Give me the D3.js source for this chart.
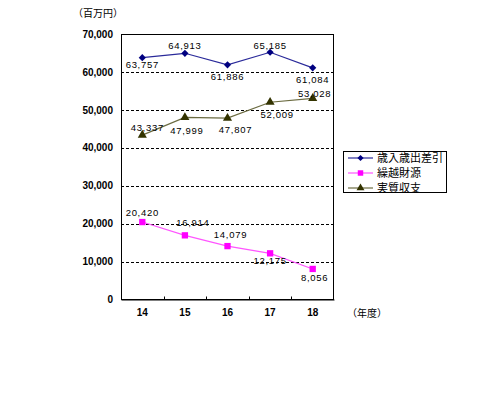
<!DOCTYPE html>
<html><head><meta charset="utf-8">
<script src="https://cdn.jsdelivr.net/npm/d3@7"></script>
<style>body{margin:0;background:#fff}</style>
</head><body>
<svg id="c" width="480" height="397"></svg>
<script>
const years = ["14","15","16","17","18"];
const seriesNames = ["歳入歳出差引","繰越財源","実質収支"];
const balance = [63757,64913,61886,65185,61084];
const carryover = [20420,16914,14079,12175,8056];
const realBalance = [43337,47999,47807,52009,53028];
const yTicks = [0,10000,20000,30000,40000,50000,60000,70000];
const unitLabel = "（百万円）";
const xUnitLabel = "（年度）";
// value-label layout (pixel offsets of text baseline from point), kept separate from data
const balanceLabelDx = [0,0,0,0,0];
const balanceLabelDy = [10.5,-4,15,-3,15.5];
const carryLabelDx = [0,8,3,0,2];
const carryLabelDy = [-6,-9,-8,11,12.5];
const realLabelDx = [5,2,8,7,2];
const realLabelDy = [-4.5,17,15,16,-1.5];

const svg = d3.select("#c");
const L=121,R=334,T=34,B=299.5;
const x = d3.scaleBand().domain(years).range([L,R]);
const y = d3.scaleLinear().domain([0,70000]).range([B,T]);
const num = d3.format(",");
const fNum = "'Liberation Sans', Arial, sans-serif";
const fJp = "'Noto Sans CJK JP', sans-serif";

// gridlines
svg.append("g").selectAll("line").data(yTicks.filter(v=>v>0&&v<70000)).join("line")
  .attr("x1",L).attr("x2",R).attr("y1",d=>Math.round(y(d))+0.5).attr("y2",d=>Math.round(y(d))+0.5)
  .attr("stroke","#000").attr("stroke-dasharray","3,2").attr("stroke-width",1);
// frame
svg.append("rect").attr("x",L+0.5).attr("y",T+0.5).attr("width",R-L-1).attr("height",B-T-0.5)
  .attr("fill","none").attr("stroke","#000");
// y axis labels
const yAxis = d3.axisLeft(y).tickValues(yTicks).tickFormat(num).tickSize(0).tickPadding(8);
const ga = svg.append("g").attr("transform",`translate(${L},0)`).call(yAxis);
ga.select(".domain").remove();
ga.selectAll("text").attr("font-family",fNum).attr("font-size",10).attr("fill","#000").attr("font-weight","bold");
// x axis
const xAxis = d3.axisBottom(x).tickSize(0).tickPadding(9);
const gx = svg.append("g").attr("transform",`translate(0,${B})`).call(xAxis);
gx.select(".domain").attr("stroke","#000");
gx.selectAll("text").attr("font-family",fNum).attr("font-size",10).attr("fill","#000").attr("font-weight","bold");
// inner ticks at category boundaries
svg.append("g").selectAll("line").data(years.slice(1)).join("line")
  .attr("x1",d=>Math.round(x(d))+0.5).attr("x2",d=>Math.round(x(d))+0.5)
  .attr("y1",B).attr("y2",B-3).attr("stroke","#000");

svg.append("text").attr("x",73).attr("y",17).attr("font-family",fJp).attr("font-size",10).text(unitLabel);
svg.append("text").attr("x",347).attr("y",317).attr("font-family",fJp).attr("font-size",10).text(xUnitLabel);

const cx = d=>x(d)+x.bandwidth()/2;
const series = [
  {vals:balance,line:"#2a2a9a",mark:"#000080",shape:d3.symbolSquare,rot:45,size:26,dx:balanceLabelDx,dy:balanceLabelDy},
  {vals:carryover,line:"#ff55ff",mark:"#ff00ff",shape:d3.symbolSquare,rot:0,size:40,dx:carryLabelDx,dy:carryLabelDy},
  {vals:realBalance,line:"#6b6b40",mark:"#333300",shape:d3.symbolTriangle,rot:0,size:36,dx:realLabelDx,dy:realLabelDy}
];
series.forEach(s=>{
  const data = years.map((yr,i)=>({yr,v:s.vals[i],dx:s.dx[i],dy:s.dy[i]}));
  svg.append("path").datum(data)
    .attr("d",d3.line().x(d=>cx(d.yr)).y(d=>y(d.v)))
    .attr("fill","none").attr("stroke",s.line).attr("stroke-width",1.2);
  svg.append("g").selectAll("path").data(data).join("path")
    .attr("transform",d=>`translate(${cx(d.yr)},${y(d.v)}) rotate(${s.rot})`)
    .attr("d",d3.symbol().type(s.shape).size(s.size)).attr("fill",s.mark);
  svg.append("g").selectAll("text").data(data).join("text")
    .attr("x",d=>cx(d.yr)+d.dx).attr("y",d=>y(d.v)+d.dy)
    .attr("text-anchor","middle").attr("font-family",fNum).attr("font-size",9.5)
    .attr("letter-spacing",0.7).attr("fill","#000").text(d=>num(d.v));
});

// legend
const lg = svg.append("g");
lg.append("rect").attr("x",343.5).attr("y",151.5).attr("width",103).attr("height",41)
  .attr("fill","#fff").attr("stroke","#000");
series.forEach((s,i)=>{
  const yy = 158+i*15;
  lg.append("line").attr("x1",348).attr("x2",373).attr("y1",yy).attr("y2",yy).attr("stroke",s.line).attr("stroke-width",1.2);
  lg.append("path").attr("transform",`translate(360.5,${yy}) rotate(${s.rot})`).attr("d",d3.symbol().type(s.shape).size(s.size*0.75)).attr("fill",s.mark);
  lg.append("text").attr("x",377).attr("y",yy+4).attr("font-family",fJp).attr("font-size",11).text(seriesNames[i]);
});
</script>
</body></html>
